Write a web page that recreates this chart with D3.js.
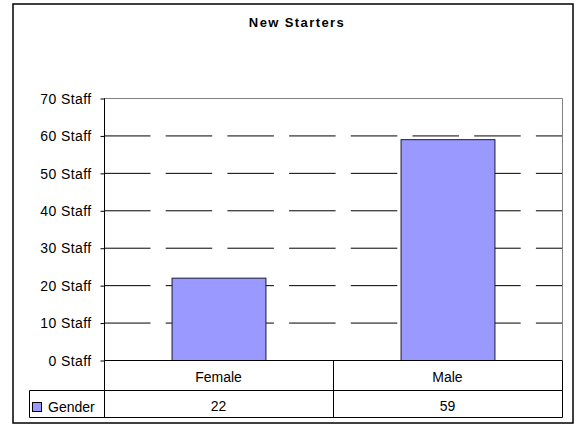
<!DOCTYPE html>
<html>
<head>
<meta charset="utf-8">
<script src="https://cdn.jsdelivr.net/npm/d3@7"></script>
<style>
  body { margin: 0; background: #fff; }
  svg text { font-family: 'Liberation Sans', Arial, sans-serif; fill: #000; }
</style>
</head>
<body>
<svg width="581" height="434"></svg>
<script>
let title = 'New Starters'
let categories = ['Female', 'Male']
let seriesName = 'Gender'
let values = [22, 59]
let yTicks = [0, 10, 20, 30, 40, 50, 60, 70]

const createChart = () => {
  let svg = d3.select('svg')
  let plot = { left: 104, right: 562, top: 98, bottom: 360 }
  let row1 = 390
  let row2 = 417
  let tableLeft = 29

  // outer chart border
  svg.append('rect')
    .attr('x', 13).attr('y', 4)
    .attr('width', 560).attr('height', 419)
    .attr('fill', '#fff')
    .attr('stroke', '#000')
    .attr('stroke-width', 1.5)

  svg.append('text')
    .attr('x', 297).attr('y', 27)
    .attr('text-anchor', 'middle')
    .attr('font-size', '13px')
    .attr('font-weight', 'bold')
    .attr('letter-spacing', '1.4px')
    .text(title)

  let y = d3.scaleLinear().domain([0, 70]).range([plot.bottom, plot.top])
  let x = d3.scaleBand().domain(categories).range([plot.left, plot.right])
    .paddingInner(0.59).paddingOuter(0.295)
  let cell = d3.scaleBand().domain(categories).range([plot.left, plot.right])

  // dashed gridlines
  svg.append('g').selectAll('line')
    .data(yTicks.filter(t => t > 0 && t < 70))
    .enter().append('line')
    .attr('x1', plot.left).attr('x2', plot.right)
    .attr('y1', d => y(d) + 0.5).attr('y2', d => y(d) + 0.5)
    .attr('stroke', '#000')
    .attr('stroke-dasharray', '46.5,15.2')

  // plot area border (top, right)
  svg.append('path')
    .attr('d', `M${plot.left},${y(70) + 0.5}H${plot.right + 0.5}V${plot.bottom}`)
    .attr('fill', 'none')
    .attr('stroke', '#808080')

  svg.append('g').selectAll('rect')
    .data(values)
    .enter().append('rect')
    .attr('x', (d, i) => x(categories[i]) + 0.5)
    .attr('y', d => y(d) + 0.5)
    .attr('width', x.bandwidth())
    .attr('height', d => plot.bottom - y(d))
    .attr('fill', '#9999FF')
    .attr('stroke', '#1a1a33')

  let axis = d3.axisLeft(y).tickValues(yTicks).tickSize(4).tickPadding(9)
    .tickFormat(d => d + ' Staff')
  let gy = svg.append('g')
    .attr('transform', `translate(${plot.left + 0.5},0.5)`)
    .call(axis)
  gy.select('.domain').remove()
  gy.selectAll('line').attr('stroke', '#000')
  gy.selectAll('text')
    .attr('font-size', '14px')
    .attr('letter-spacing', '0.4px')
    .attr('dy', '0.34em')

  // data table lines
  let lines = [
    [plot.left, plot.top, plot.left, row2],
    [plot.left, plot.bottom, plot.right, plot.bottom],
    [tableLeft, row1, plot.right, row1],
    [tableLeft, row2, plot.right, row2],
    [tableLeft, row1, tableLeft, row2],
    [cell('Male'), plot.bottom, cell('Male'), row2],
    [plot.right, plot.bottom, plot.right, row2]
  ]
  svg.append('g').selectAll('line')
    .data(lines)
    .enter().append('line')
    .attr('x1', d => d[0] + 0.5).attr('y1', d => d[1] + 0.5)
    .attr('x2', d => d[2] + 0.5).attr('y2', d => d[3] + 0.5)
    .attr('stroke', '#000')

  svg.append('g').selectAll('text')
    .data(categories)
    .enter().append('text')
    .attr('x', d => cell(d) + cell.bandwidth() / 2)
    .attr('y', 381.5)
    .attr('text-anchor', 'middle')
    .attr('font-size', '14px')
    .text(d => d)

  svg.append('g').selectAll('text')
    .data(values)
    .enter().append('text')
    .attr('x', (d, i) => cell(categories[i]) + cell.bandwidth() / 2)
    .attr('y', 411)
    .attr('text-anchor', 'middle')
    .attr('font-size', '14px')
    .text(d => d)

  svg.append('rect')
    .attr('x', 32.5).attr('y', 402.5)
    .attr('width', 9).attr('height', 9)
    .attr('fill', '#9999FF')
    .attr('stroke', '#000')

  svg.append('text')
    .attr('x', 48).attr('y', 411.5)
    .attr('font-size', '14px')
    .text(seriesName)
}

createChart()
</script>
</body>
</html>
